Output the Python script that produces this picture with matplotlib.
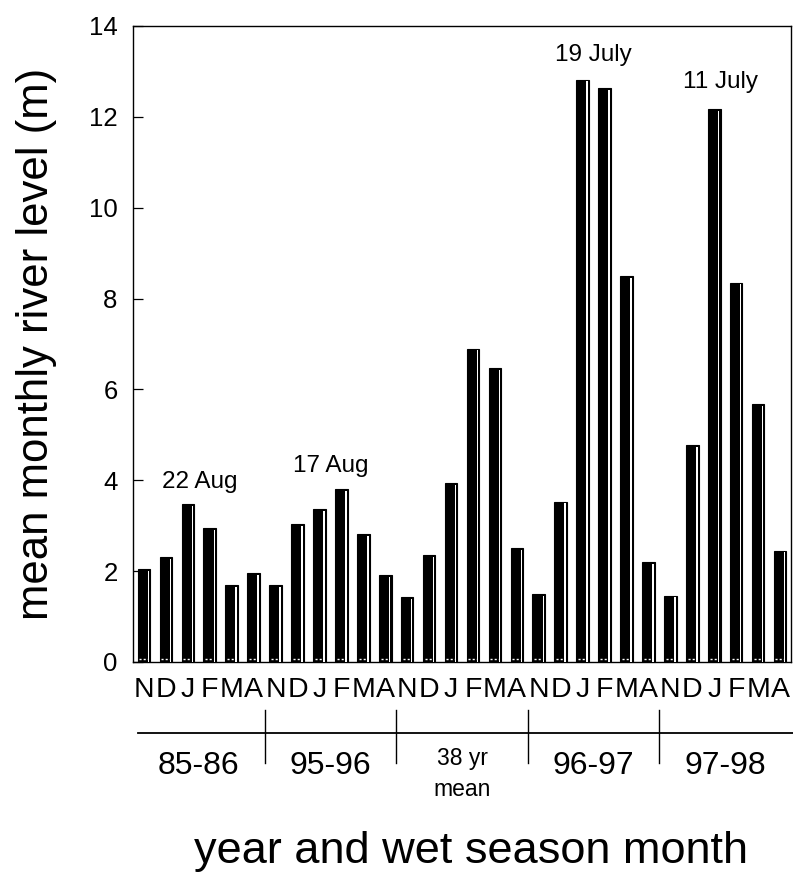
import numpy as np
import matplotlib
matplotlib.use("Agg")
import matplotlib.pyplot as plt
import matplotlib.transforms as mtrans

plt.rcParams["font.family"] = ["Liberation Sans", "DejaVu Sans"]

MONTHS = ["N", "D", "J", "F", "M", "A"]
SEASONS = ["85-86", "95-96", "38 yr\nmean", "96-97", "97-98"]

# mean monthly river level (m), Nov..Apr of each wet season
lvl_8586 = [2.05, 2.30, 3.48, 2.94, 1.70, 1.96]
lvl_9596 = [1.69, 3.03, 3.37, 3.81, 2.82, 1.91]
lvl_mean = [1.43, 2.35, 3.94, 6.90, 6.47, 2.51]
lvl_9697 = [1.49, 3.53, 12.82, 12.63, 8.50, 2.20]
lvl_9798 = [1.46, 4.78, 12.17, 8.35, 5.68, 2.45]

# dates of the annual flood peak, written above the seasons
peak_dates = ["22 Aug", "17 Aug", "19 July", "11 July"]
peak_x = [2.53, 8.5, 20.5, 26.3]
peak_y = [3.84, 4.19, 13.23, 12.63]

levels = np.concatenate([lvl_8586, lvl_9596, lvl_mean, lvl_9697, lvl_9798])
x = np.arange(len(levels))
n_per = len(MONTHS)

fig = plt.figure(figsize=(7.93, 8.77), dpi=100)
ax = fig.add_axes([0.1677, 0.2452, 0.8298, 0.7252])

bw = 0.575
ax.bar(x, levels, width=bw, color="black", edgecolor="black", linewidth=0.8, zorder=2)
# thin highlight strip near the right edge of each bar
ax.bar(x + 0.205, levels - 0.04, width=0.065, color="white", linewidth=0, zorder=3)
# little white dashes at the foot of each bar
ax.hlines(np.full(len(x), 0.07), x - bw / 2 + 0.08, x + bw / 2 - 0.12, colors="white",
          linewidth=1.0, linestyles=(0, (1.5, 1.5)), zorder=4)

ax.set_xlim(-0.5, len(levels) - 0.5)
ax.set_ylim(0, 14)
ax.set_yticks(np.arange(0, 15, 2))
ax.tick_params(axis="y", direction="in", length=7, width=0.9, labelsize=18.5, pad=11)
ax.set_xticks(x)
ax.set_xticklabels(MONTHS * len(SEASONS))
ax.tick_params(axis="x", length=0, labelsize=20.5, pad=11)
for sp in ax.spines.values():
    sp.set_linewidth(1.0)

for txt, px, py in zip(peak_dates, peak_x, peak_y):
    ax.text(px, py, txt, ha="center", va="baseline", fontsize=17.5)

# season bracket below the month letters
tr = mtrans.blended_transform_factory(ax.transData, ax.transAxes)
ax.plot([-0.27, 29.7], [-0.111, -0.111], color="black", lw=1.3, transform=tr, clip_on=False)
for b in np.arange(1, len(SEASONS)) * n_per - 0.5:
    ax.plot([b, b], [-0.076, -0.159], color="black", lw=1.0, transform=tr, clip_on=False)
for i, s in enumerate(SEASONS):
    cx = i * n_per + (n_per - 1) / 2
    if "\n" in s:
        ax.text(cx, -0.176, s, ha="center", va="center", fontsize=16.5, linespacing=1.45,
                transform=tr)
    else:
        ax.text(cx, -0.163, s, ha="center", va="center", fontsize=23, transform=tr)

ax.set_ylabel("mean monthly river level (m)", fontsize=31.5)
ax.yaxis.set_label_coords(-0.146, 0.5)
ax.yaxis.label.set_va("center")

fig.text(471 / 793, 1 - 863 / 877, "year and wet season month", ha="center", va="baseline",
         fontsize=32.5)

fig.savefig("out.png", dpi=100)
